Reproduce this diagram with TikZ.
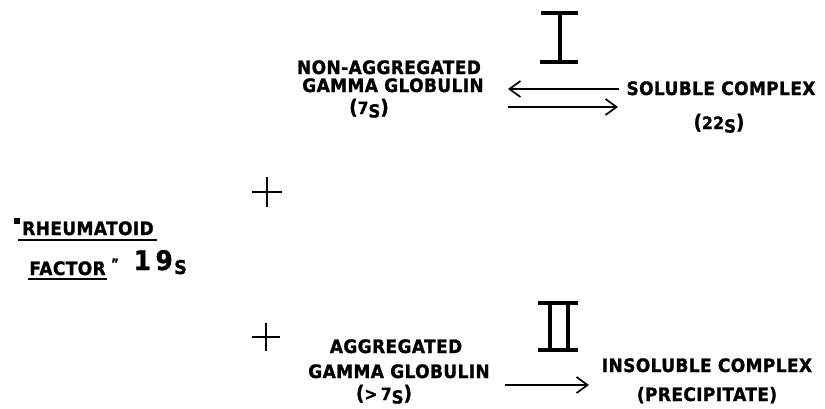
\documentclass[tikz,border=0pt]{standalone}
\usepackage{fontspec}
\setmainfont{DejaVu Sans}[FakeStretch=0.92, LetterSpace=2, BoldFeatures={FakeBold=1.2}]
\usetikzlibrary{arrows.meta}
\tikzset{
  lbl/.style={inner sep=0pt, anchor=base, font=\fontsize{18.5}{19}\selectfont\bfseries},
  par/.style={inner sep=0pt, anchor=base, font=\fontsize{20}{20}\selectfont\bfseries},
  big/.style={inner sep=0pt, anchor=base east, font=\fontsize{27}{27}\selectfont\bfseries},
  sub/.style={inner sep=0pt, anchor=base west, font=\fontsize{19}{19}\selectfont\bfseries},
  rxn/.style={line width=1.7pt, -{Straight Barb[length=11pt,width=16pt,line width=1.7pt]}},
  bar/.style={line width=3.4pt},
  ul/.style={line width=1.6pt},
  plus/.style={line width=1.8pt}
}
\newcommand{\smallnum}[1]{{\fontsize{17}{17}\selectfont #1}}
\newcommand{\lowS}{\raisebox{-3.5pt}{\fontsize{18}{18}\selectfont S}}
\begin{document}
\begin{tikzpicture}[x=1pt,y=-1pt]
\useasboundingbox (0,0) rectangle (825,408);
% roman numeral I
\draw[bar] (541,13) -- (578,13);
\draw[bar] (540,62) -- (578,62);
\draw[bar] (560,13) -- (560,62);
% roman numeral II
\draw[bar] (538,303) -- (578,303);
\draw[bar] (538,350) -- (578,350);
\draw[bar] (550,303) -- (550,350);
\draw[bar] (568,303) -- (568,350);
% top group
\node[lbl] (nonagg) at (389,74) {NON-AGGREGATED};
\node[lbl] (gg1) at (393,92) {GAMMA GLOBULIN};
\node[par] (s7) at (369,114) {(\smallnum{7}\lowS)};
\node[lbl] (sol) at (721,95) {SOLUBLE COMPLEX};
\node[par] (s22) at (719,129) {(\smallnum{22}\lowS)};
\coordinate (tl) at (508,89);
\coordinate (tr) at (619,89);
\coordinate (bl) at (508,107);
\coordinate (br) at (618,107);
\draw[rxn] (tr) -- (tl);
\draw[rxn] (bl) -- (br);
% plus signs
\coordinate (p1) at (267,192);
\draw[plus] ([xshift=-15pt]p1) -- ([xshift=15pt]p1);
\draw[plus] ([yshift=-15pt]p1) -- ([yshift=15pt]p1);
\coordinate (p2) at (266,337);
\draw[plus] ([xshift=-14pt]p2) -- ([xshift=14pt]p2);
\draw[plus] ([yshift=-14pt]p2) -- ([yshift=14pt]p2);
% rheumatoid factor
\fill (14,218) rectangle (20,224);
\node[lbl] (rheu) at (88,235) {RHEUMATOID};
\draw[ul] (18,240) -- (157,240);
\node[lbl] (fact) at (67.5,275) {FACTOR};
\draw[ul] (28,279) -- (107,279);
\node[inner sep=0pt, anchor=base, font=\fontsize{13}{13}\selectfont\bfseries] (q2) at (115,268) {"};
\node[big] (n19) at (173,270) {1\,9};
\node[sub] (s19) at (174,274) {S};
% bottom group
\node[lbl] (agg) at (396,353) {AGGREGATED};
\node[lbl] (gg2) at (399,378) {GAMMA GLOBULIN};
\node[par] (s7b) at (384,400) {(\smallnum{>}\,\smallnum{7}\lowS)};
\node[lbl] (insol) at (707,372) {INSOLUBLE COMPLEX};
\node[lbl] (prec) at (707,401) {(PRECIPITATE)};
\coordinate (al) at (505,385);
\coordinate (ar) at (589,385);
\draw[rxn] (al) -- (ar);
\end{tikzpicture}
\end{document}
